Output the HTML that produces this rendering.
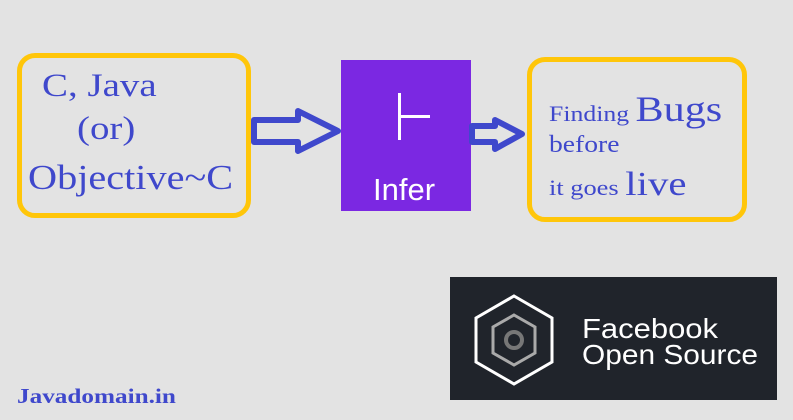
<!DOCTYPE html>
<html><head><style>
body{margin:0;width:793px;height:420px;background:#e3e3e3;position:relative;overflow:hidden;font-family:"Liberation Serif",serif}
.box{position:absolute;border:5px solid #ffc60a;border-radius:18px;box-sizing:border-box}
.t{position:absolute;color:#3f48cc;white-space:nowrap;line-height:1;transform-origin:0 0}
</style></head><body>
<div class="box" style="left:17px;top:53px;width:234px;height:165px"></div>
<div class="t" style="left:42px;top:70px;font-size:33px;transform:scaleX(1.18)">C, Java</div>
<div class="t" style="left:77px;top:113px;font-size:33px;transform:scaleX(1.18)">(or)</div>
<div class="t" style="left:28px;top:160px;font-size:35px;transform:scaleX(1.15)">Objective~C</div>

<div class="box" style="left:527px;top:57px;width:220px;height:165px"></div>
<div class="t" style="left:549px;top:91px;font-size:22px;transform:scaleX(1.17)">Finding <span style="font-size:36px">Bugs</span></div>
<div class="t" style="left:549px;top:133px;font-size:24px;transform:scaleX(1.15)">before</div>
<div class="t" style="left:549px;top:168px;font-size:22px;transform:scaleX(1.2)">it goes <span style="font-size:34px">live</span></div>

<div style="position:absolute;left:341px;top:60px;width:130px;height:151px;background:#7b28e2"></div>
<div style="position:absolute;left:398px;top:93px;width:3px;height:47px;background:#fff"></div>
<div style="position:absolute;left:398px;top:115px;width:32px;height:3px;background:#fff"></div>
<div style="position:absolute;left:373px;top:172px;font-family:'Liberation Sans',sans-serif;font-size:31px;color:#fff;font-weight:300">Infer</div>

<svg width="793" height="420" style="position:absolute;left:0;top:0">
<polygon points="254,120 298,120 298,111 338,131 298,151 298,142 254,142" fill="none" stroke="#3f48cc" stroke-width="6" stroke-linejoin="round"/>
<polygon points="472,126 495,126 495,120 522,134 495,149 495,142 472,142" fill="none" stroke="#3f48cc" stroke-width="6" stroke-linejoin="round"/>
<rect x="450" y="277" width="327" height="123" fill="#20242b"/>
<polygon points="514,296 552,318 552,362 514,384 476,362 476,318" fill="none" stroke="#fff" stroke-width="3"/>
<polygon points="514,315 535,327 535,353 514,365 493,353 493,327" fill="none" stroke="#aaa" stroke-width="3"/>
<circle cx="514" cy="340" r="8" fill="none" stroke="#777" stroke-width="4"/>
<text x="582" y="338" font-family="Liberation Sans,sans-serif" font-size="28" fill="#fff" textLength="136" lengthAdjust="spacingAndGlyphs">Facebook</text>
<text x="582" y="364" font-family="Liberation Sans,sans-serif" font-size="28" fill="#fff" textLength="176" lengthAdjust="spacingAndGlyphs">Open Source</text>
</svg>
<div class="t" style="left:17px;top:386px;font-size:21px;font-weight:bold;transform:scaleX(1.2)">Javadomain.in</div>
</body></html>
